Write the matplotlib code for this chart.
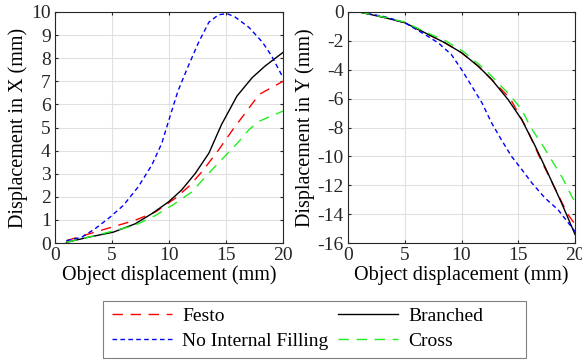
import matplotlib.pyplot as plt
from matplotlib.patches import Rectangle

plt.rcParams['font.family'] = ['Liberation Serif', 'DejaVu Serif']
plt.rcParams['font.size'] = 14
plt.rcParams['axes.unicode_minus'] = False

# displacement in X (left panel)
x_festo = [1.0, 3.5, 7.0, 8.8, 10.5, 11.7, 12.9, 14.35, 15.7, 16.7, 17.9, 20]
xd_festo = [0.1, 0.47, 0.98, 1.34, 1.92, 2.43, 3.09, 4.03, 4.98, 5.63, 6.43, 7.0]
x_branch = [1.0, 2.93, 5.12, 7.03, 8.5, 9.96, 11.1, 12.3, 13.5, 14.6, 15.96, 17.3, 18.45, 20]
xd_branch = [0.03, 0.25, 0.47, 0.83, 1.27, 1.78, 2.29, 3.01, 3.89, 5.12, 6.36, 7.16, 7.67, 8.25]
x_nofill = [1.0, 2.34, 3.5, 4.83, 6.0, 7.3, 8.5, 9.37, 10.1, 10.8, 11.7, 12.6, 13.5,
            14.35, 15.1, 15.8, 17.0, 18.2, 19.0, 20]
xd_nofill = [0.1, 0.25, 0.61, 1.12, 1.63, 2.43, 3.38, 4.32, 5.5, 6.6, 7.67, 8.69, 9.56,
             9.88, 9.93, 9.78, 9.34, 8.69, 8.1, 7.16]
x_cross = [1.0, 3.5, 7.0, 8.8, 10.5, 12.0, 13.2, 14.6, 16.0, 17.0, 17.9, 20]
xd_cross = [0.03, 0.32, 0.76, 1.19, 1.7, 2.21, 2.87, 3.6, 4.32, 4.9, 5.27, 5.71]

# displacement in Y (right panel)
y_festo = [1.0, 3.24, 5.0, 6.76, 8.53, 10.0, 11.47, 12.65, 14.3, 15.7, 16.85, 18.1, 19.35, 20]
yd_festo = [0.0, -0.39, -0.74, -1.43, -2.13, -2.82, -3.75, -4.67, -6.0, -8.0, -10.0, -12.0, -14.0, -14.7]
y_branch = [1.0, 3.24, 5.0, 6.76, 8.53, 10.0, 11.47, 12.65, 14.1, 15.3, 16.5, 17.6, 18.8, 20]
yd_branch = [0.0, -0.39, -0.74, -1.43, -2.13, -2.82, -3.75, -4.67, -6.06, -7.45, -9.3, -11.14, -13.2, -15.4]
y_nofill = [1.0, 3.2, 5.0, 6.76, 7.94, 9.1, 10.0, 10.9, 11.8, 12.65, 13.5, 14.4, 15.3,
            16.2, 17.35, 18.5, 20]
yd_nofill = [0.0, -0.32, -0.74, -1.55, -2.13, -2.94, -3.98, -5.13, -6.29, -7.68, -8.83,
             -9.99, -10.9, -11.84, -12.88, -13.69, -15.2]
y_cross = [1.0, 3.24, 5.0, 6.76, 8.6, 10.1, 12.1, 13.2, 14.2, 15.3, 16.1, 17.2, 18.9, 19.8, 20]
yd_cross = [0.0, -0.37, -0.7, -1.36, -2.0, -2.7, -4.0, -4.9, -5.7, -6.75, -8.0, -9.3, -11.5, -12.9, -13.1]

W, H = 582, 361
fig = plt.figure(figsize=(W / 100, H / 100), dpi=100)
ax1 = fig.add_axes([55 / W, 1 - 243 / H, 228 / W, 231 / H])
ax2 = fig.add_axes([348 / W, 1 - 243 / H, 227 / W, 231 / H])

long_dash = (0, (7.5, 5.5))
short_dash = (0, (3.3, 2.4))
green = '#22ee22'

for ax in (ax1, ax2):
    ax.grid(True, color='#e0e0e0', linewidth=0.8)
    ax.set_axisbelow(True)
    ax.tick_params(direction='in', colors='#262626', labelcolor='#262626', length=2.5,
                   top=True, right=True, labelsize=14, pad=3)
    for s in ax.spines.values():
        s.set_color('#262626')
        s.set_linewidth(0.8)
    ax.set_xlim(0, 20)
    ax.set_xticks([0, 5, 10, 15, 20])
    ax.set_xlabel('Object displacement (mm)', fontsize=14.5, labelpad=1)

l1, = ax1.plot(x_festo, xd_festo, color='red', linestyle=long_dash, lw=1)
l2, = ax1.plot(x_branch, xd_branch, color='black', lw=1)
l3, = ax1.plot(x_nofill, xd_nofill, color='blue', linestyle=short_dash, lw=1)
l4, = ax1.plot(x_cross, xd_cross, color=green, linestyle=long_dash, lw=1)
ax1.set_ylim(0, 10)
ax1.set_yticks(range(0, 11))
ax1.set_ylabel('Displacement in X (mm)', fontsize=14.5, labelpad=2)

ax2.plot(y_festo, yd_festo, color='red', linestyle=long_dash, lw=1)
ax2.plot(y_branch, yd_branch, color='black', lw=1)
ax2.plot(y_nofill, yd_nofill, color='blue', linestyle=short_dash, lw=1)
ax2.plot(y_cross, yd_cross, color=green, linestyle=long_dash, lw=1)
ax2.set_ylim(-16, 0)
ax2.set_yticks(range(-16, 1, 2))
ax2.set_ylabel('Displacement in Y (mm)', fontsize=14.5, labelpad=2)

# legend box drawn separately (MATLAB-style wide frame)
fig.patches.append(Rectangle((103 / W, 1 - 358 / H), 423 / W, 57 / H,
                             transform=fig.transFigure, fill=False,
                             edgecolor='#808080', linewidth=0.8))
fig.legend([l1, l3, l2, l4], ['Festo', 'No Internal Filling', 'Branched', 'Cross'],
           ncol=2, loc='upper left', bbox_to_anchor=(112 / W, 1 - 307 / H),
           frameon=False, fontsize=14,
           handlelength=3.1, handletextpad=0.5, columnspacing=0.5,
           labelspacing=0.4, borderpad=0, borderaxespad=0)

fig.savefig('out.png', dpi=100)
